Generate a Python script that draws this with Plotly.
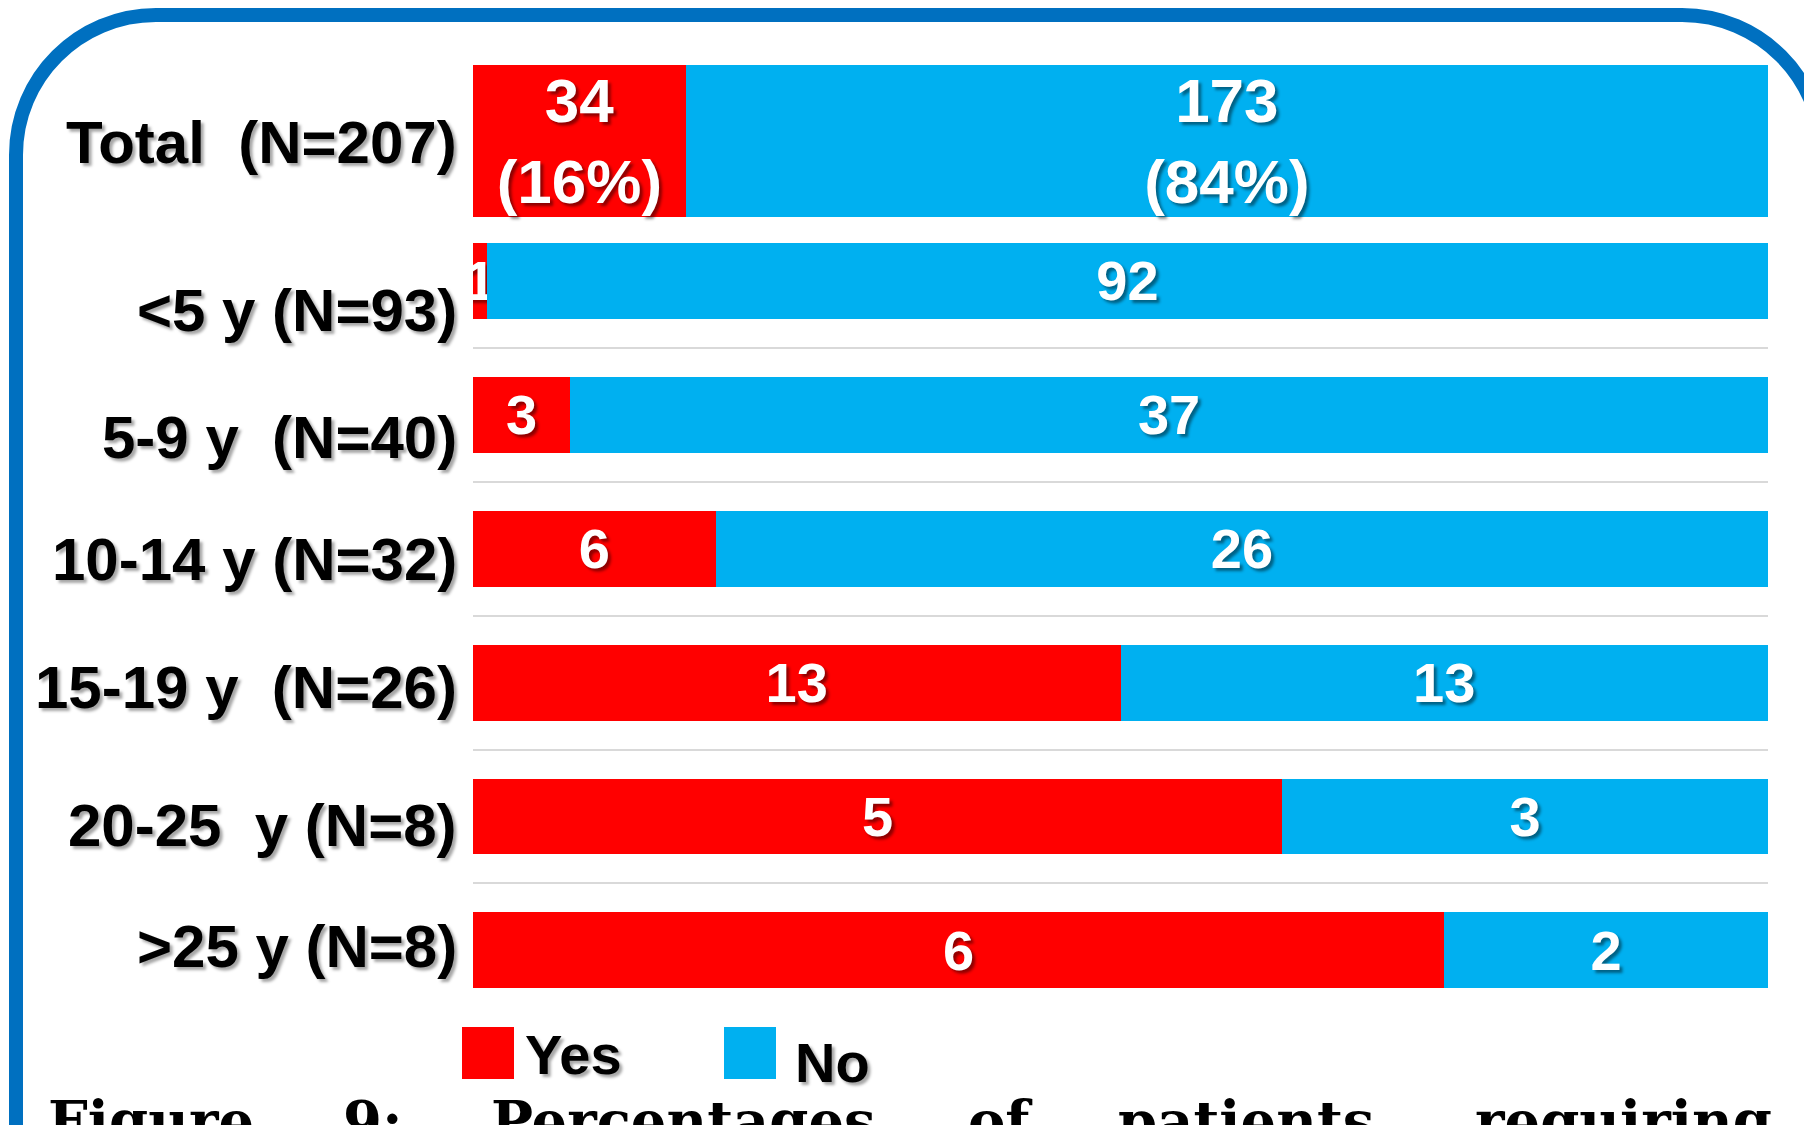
import plotly.graph_objects as go

# ---------------- data ----------------
categories = ["Total", "<5 y", "5-9 y", "10-14 y", "15-19 y", "20-25 y", ">25 y"]
row_labels = ["Total\u00a0\u00a0(N=207)", "<5 y (N=93)", "5-9 y\u00a0\u00a0(N=40)",
              "10-14 y (N=32)", "15-19 y\u00a0\u00a0(N=26)", "20-25\u00a0\u00a0y (N=8)", ">25 y (N=8)"]
yes_counts = [34, 1, 3, 6, 13, 5, 6]
no_counts = [173, 92, 37, 26, 13, 3, 2]
series_names = ["Yes", "No"]
caption_words = ["Figure", "9:", "Percentages", "of", "patients", "requiring"]

# ---------------- style ----------------
RED = "#FF0000"
BLUE = "#00B0F0"
BORDER = "#0070C0"
W, H = 1804, 1125
ML, MR, MT, MB = 473, 36, 40, 101
PW, PH = W - ML - MR, H - MT - MB
SANS = "Liberation Sans, Arial, sans-serif"
SERIF = "DejaVu Serif, Liberation Serif, serif"
WHITE_SHADOW = "3px 3px 3px rgba(0,0,0,0.45)"
BLACK_SHADOW = "3px 3px 3px rgba(0,0,0,0.35)"

bar_widths = [1.133] + [0.566] * 6
bar_offsets = [-0.614] + [-0.283] * 6
text_sizes = [62] + [56] * 6
label_yshift = [5, -30, -23, -11, -5, -9, 4]


def px(x):
    return (x - ML) / PW


def py(y):
    return (H - MB - y) / PH


def bar_text(vals, other):
    out = []
    for i, (v, o) in enumerate(zip(vals, other)):
        if i == 0:
            out.append(f"{v}<br>({round(100 * v / (v + o))}%)")
        else:
            out.append(str(v))
    return out


fig = go.Figure()
for name, vals, other, color in [("Yes", yes_counts, no_counts, RED),
                                  ("No", no_counts, yes_counts, BLUE)]:
    fig.add_trace(go.Bar(
        name=name, y=categories, x=vals, orientation="h",
        marker=dict(color=color, line=dict(width=0)),
        width=bar_widths, offset=bar_offsets,
        text=bar_text(vals, other), textposition="inside",
        insidetextanchor="middle", constraintext="none", textangle=0,
        textfont=dict(color="white", size=text_sizes, family=SANS, weight="bold",
                      shadow=WHITE_SHADOW),
        showlegend=False, hoverinfo="skip",
    ))

fig.update_layout(
    width=W, height=H,
    barmode="stack", barnorm="percent",
    paper_bgcolor="white", plot_bgcolor="white",
    margin=dict(l=ML, r=MR, t=MT, b=MB),
    xaxis=dict(range=[0, 100], showgrid=False, zeroline=False,
               showticklabels=False, showline=False, fixedrange=True),
    yaxis=dict(categoryorder="array", categoryarray=categories,
               range=[6.55, -0.8], showgrid=True, gridcolor="#D9D9D9",
               gridwidth=2, tickson="boundaries", ticks="",
               showticklabels=False, zeroline=False, showline=False),
)

# row labels
for cat, lab, ys in zip(categories, row_labels, label_yshift):
    fig.add_annotation(x=0, xref="paper", y=cat, yref="y", text=lab,
                       xanchor="right", yanchor="middle", xshift=-14, yshift=ys,
                       showarrow=False,
                       font=dict(family=SANS, size=60, color="black", weight="bold",
                                 shadow=BLACK_SHADOW))

# rounded blue frame
k = 0.5523
r = 140
x0, y0, x1, yb = 16, 15, 1822, 1140
path = (f"M {px(x0)},{py(yb)} L {px(x0)},{py(y0 + r)} "
        f"C {px(x0)},{py(y0 + r - k * r)} {px(x0 + r - k * r)},{py(y0)} {px(x0 + r)},{py(y0)} "
        f"L {px(x1 - r)},{py(y0)} "
        f"C {px(x1 - r + k * r)},{py(y0)} {px(x1)},{py(y0 + r - k * r)} {px(x1)},{py(y0 + r)} "
        f"L {px(x1)},{py(yb)}")
fig.add_shape(type="path", path=path, xref="paper", yref="paper",
              line=dict(color=BORDER, width=14), layer="above")

# legend (manual, large swatches)
legend_items = [(series_names[0], RED, 462, 1027, 523, 1054),
                (series_names[1], BLUE, 724, 1027, 793, 1062)]
for name, color, sx, sy, tx, ty in legend_items:
    fig.add_shape(type="rect", xref="paper", yref="paper",
                  x0=px(sx), x1=px(sx + 52), y0=py(sy + 52), y1=py(sy),
                  fillcolor=color, line=dict(width=0))
    fig.add_annotation(x=px(tx), y=py(ty), xref="paper", yref="paper", text=name,
                       xanchor="left", yanchor="middle", showarrow=False,
                       font=dict(family=SANS, size=56, color="black", weight="bold",
                                 shadow=BLACK_SHADOW))

# caption (partly cut off at the bottom)
caption_x = [46, 341, 489, 966, 1116, 1473]
for word, cx in zip(caption_words, caption_x):
    fig.add_annotation(x=px(cx), y=py(1121), xref="paper", yref="paper", text=word,
                       xanchor="left", yanchor="middle", showarrow=False,
                       font=dict(family=SERIF, size=56, color="black", weight="bold"))

fig.write_html("out.html")
